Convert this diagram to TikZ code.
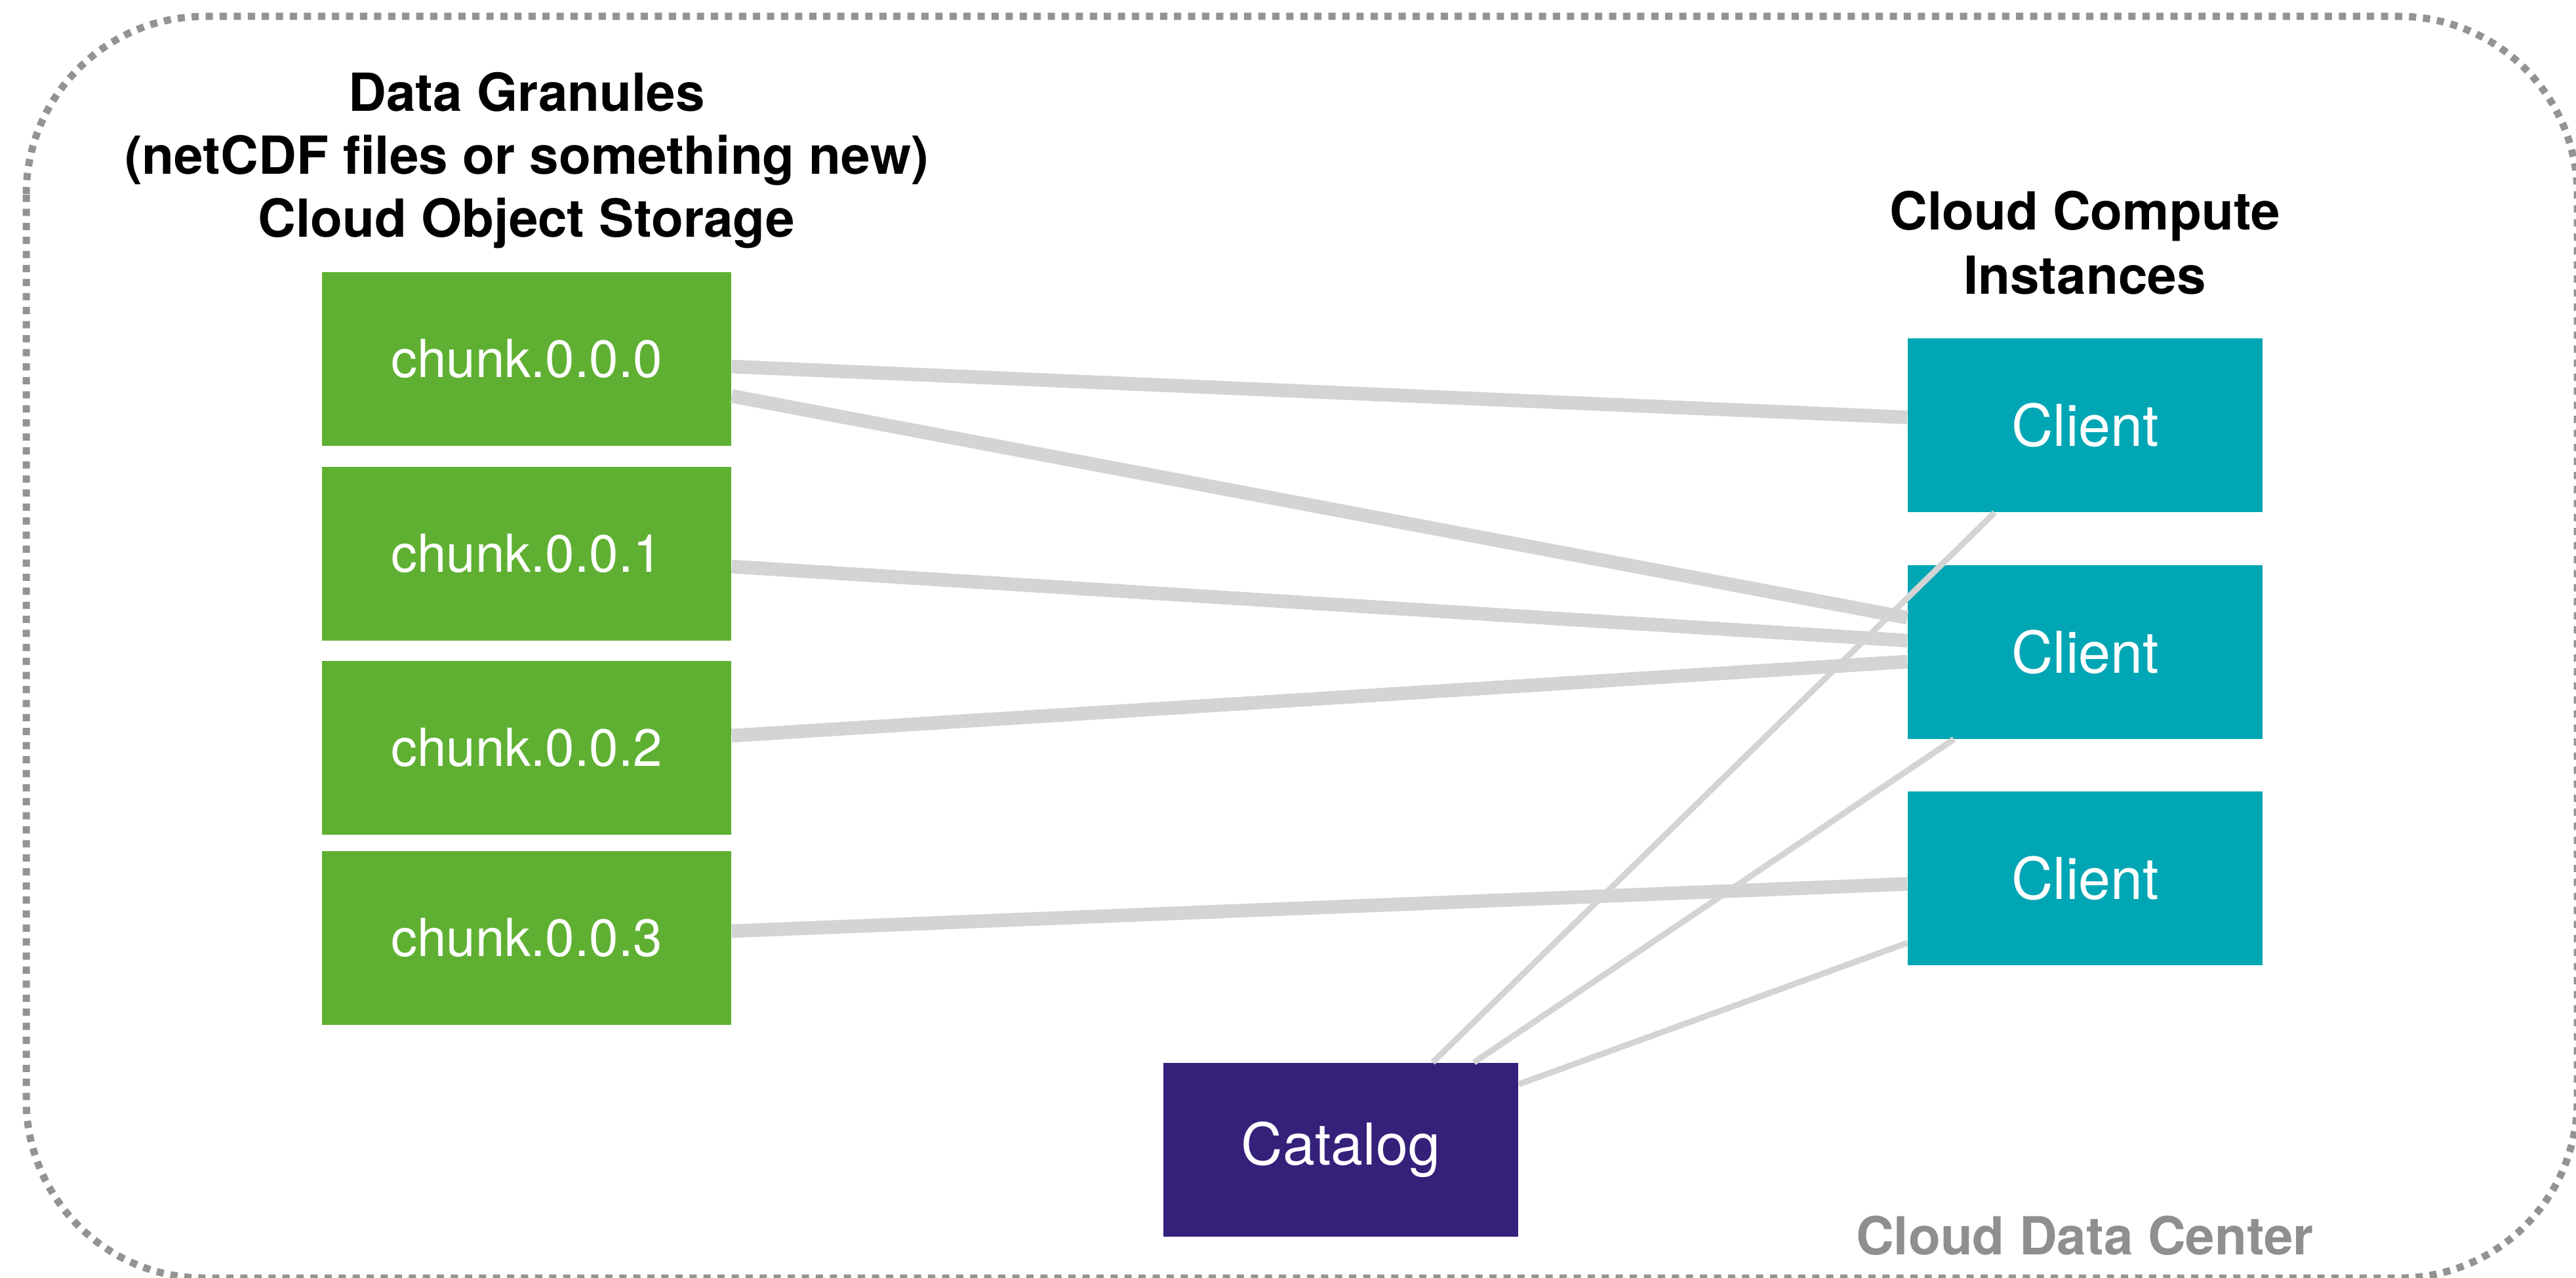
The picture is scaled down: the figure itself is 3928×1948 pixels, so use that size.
\documentclass[tikz,border=0pt]{standalone}
\usepackage{fontspec}
\setmainfont{TeX Gyre Heros}
\usetikzlibrary{calc}
\definecolor{chunkgreen}{RGB}{95,176,50}
\definecolor{clientteal}{RGB}{0,166,180}
\definecolor{catpurple}{RGB}{53,32,122}
\definecolor{linkgray}{RGB}{212,212,212}
\definecolor{bordergray}{RGB}{147,147,147}
\definecolor{labelgray}{RGB}{143,143,143}
\tikzset{
  chunkbox/.style={fill=chunkgreen, draw=none, inner sep=0pt, minimum width=156pt, minimum height=66.25pt, text=white, font=\fontsize{20}{24}\selectfont},
  clientbox/.style={fill=clientteal, draw=none, inner sep=0pt, minimum width=135.25pt, minimum height=66.25pt, text=white, font=\fontsize{22}{26}\selectfont},
  catbox/.style={fill=catpurple, draw=none, inner sep=0pt, minimum width=135.25pt, minimum height=66.25pt, text=white, font=\fontsize{22}{26}\selectfont},
  thicklink/.style={draw=linkgray, line width=5.2pt},
  thinlink/.style={draw=linkgray, line width=2.3pt},
  frame/.style={draw=bordergray, line width=2.75pt, dash pattern=on 2.75pt off 2.6pt, rounded corners=68pt},
  heading/.style={align=center, font=\fontsize{20}{24}\selectfont\bfseries, text=black, inner sep=0pt}
}
\begin{document}
\begin{tikzpicture}[x=0.25pt,y=-0.25pt]
\useasboundingbox (0,0) rectangle (3928,1948);
\begin{scope}
\clip (0,0) rectangle (3928,1948);
\draw[frame] (40,25) rectangle (3930,1949);
\end{scope}

\node[heading] (title) at (803,245) {Data Granules\\(netCDF files or something new)\\Cloud Object Storage};
\node[heading, font=\fontsize{20}{24.5}\selectfont\bfseries] (ctitle) at (3179,370) {Cloud Compute\\Instances};
\node[heading, text=labelgray] (dc) at (3179,1884) {Cloud Data Center};

\node[chunkbox] (c0) at (803,547) {chunk.0.0.0};
\node[chunkbox] (c1) at (803,844) {chunk.0.0.1};
\node[chunkbox] (c2) at (803,1140) {chunk.0.0.2};
\node[chunkbox] (c3) at (803,1430) {chunk.0.0.3};

\node[clientbox] (cl1) at (3179.5,648.5) {Client};
\node[clientbox] (cl2) at (3179.5,994) {Client};
\node[clientbox] (cl3) at (3179.5,1339) {Client};

\node[catbox] (cat) at (2044.5,1753.5) {Catalog};

\draw[thicklink] ($(c0.east)+(0,12)$) -- ($(cl1.west)+(0,-12)$);
\draw[thicklink] ($(c0.east)+(0,57)$) -- ($(cl2.west)+(0,-52)$);
\draw[thicklink] ($(c1.east)+(0,20)$) -- ($(cl2.west)+(0,-17)$);
\draw[thicklink] ($(c2.east)+(0,-18)$) -- ($(cl2.west)+(0,15)$);
\draw[thicklink] ($(c3.east)+(0,-10)$) -- ($(cl3.west)+(0,9)$);

\draw[thinlink] ($(cat.north)+(140,0)$) -- ($(cl1.south)+(-138,0)$);
\draw[thinlink] ($(cat.north)+(203,0)$) -- ($(cl2.south)+(-200,0)$);
\draw[thinlink] ($(cat.east)+(0,-100)$) -- ($(cl3.west)+(0,99)$);
\end{tikzpicture}
\end{document}
